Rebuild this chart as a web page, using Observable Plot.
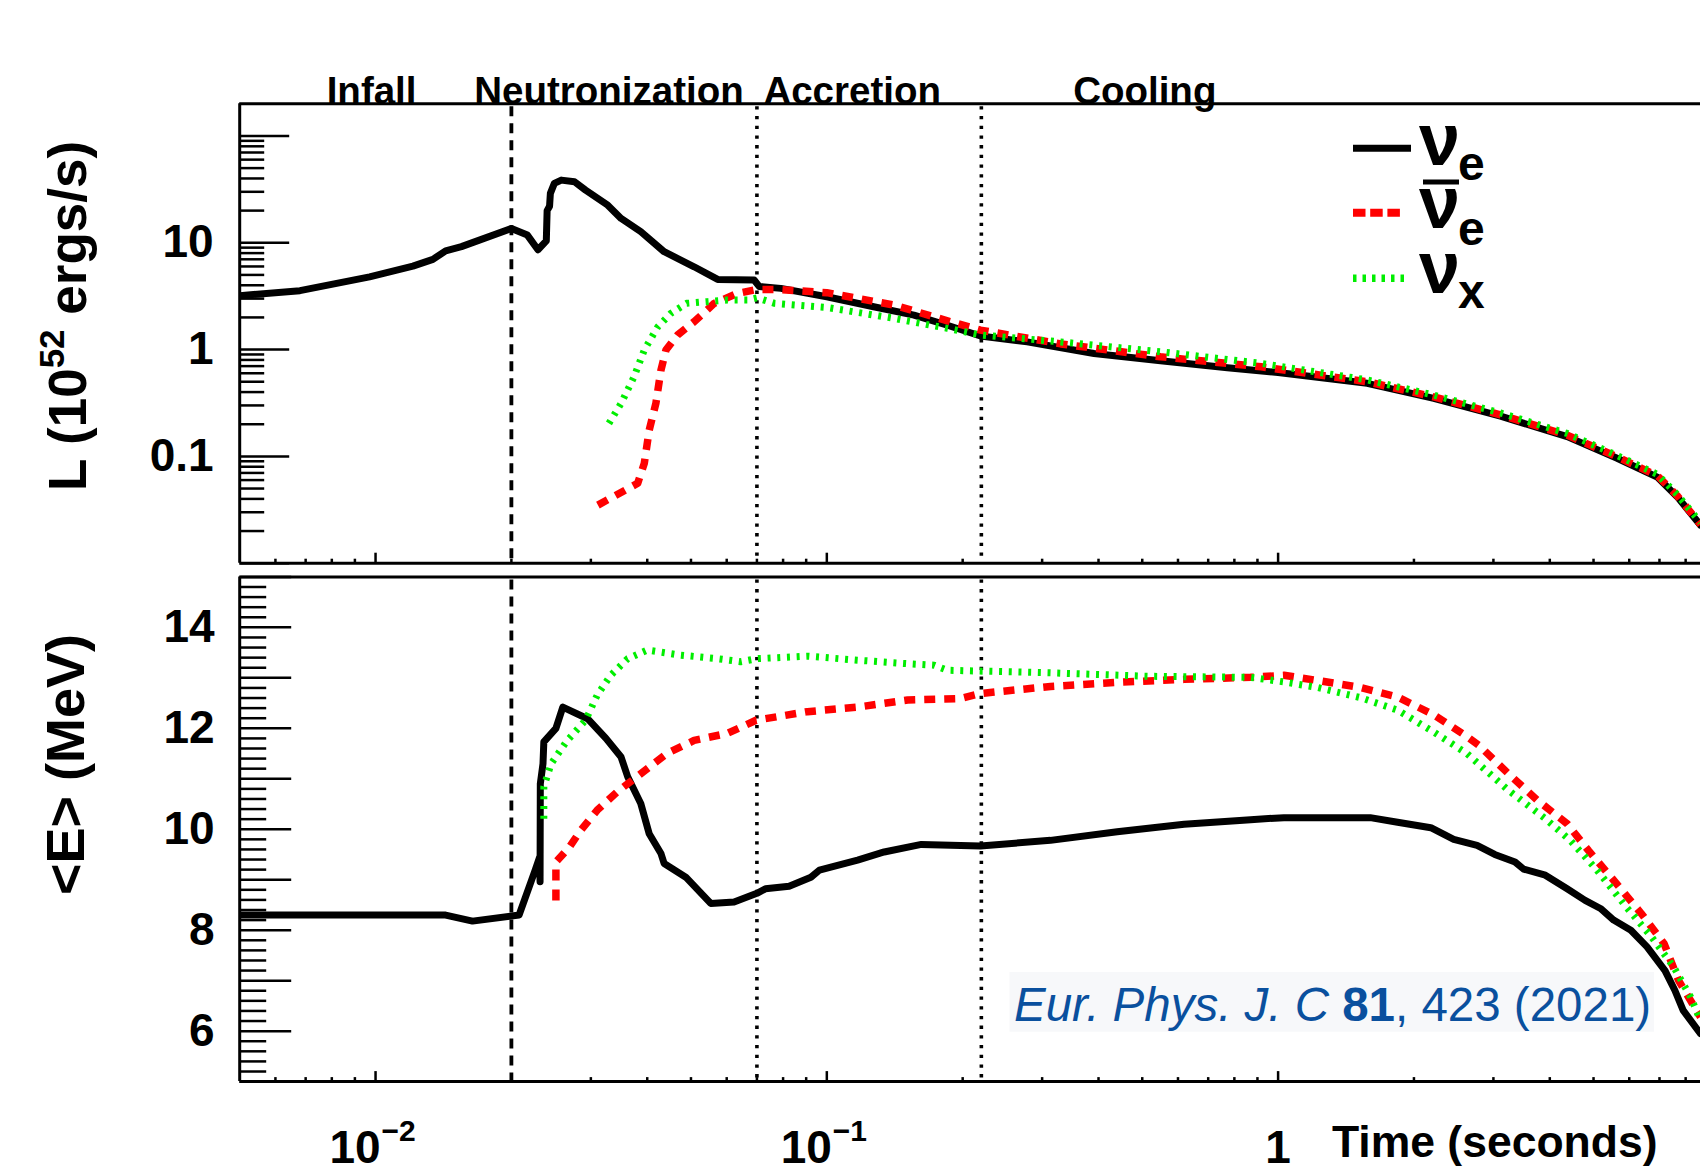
<!DOCTYPE html>
<html>
<head>
<meta charset="utf-8">
<script src="https://cdn.jsdelivr.net/npm/d3@7"></script>
<script src="https://cdn.jsdelivr.net/npm/@observablehq/plot@0.6"></script>
<style>
  html, body { margin: 0; padding: 0; background: #fff; overflow: hidden; }
  #chart { width: 1700px; height: 1173px; overflow: hidden; }
  #chart svg { display: block; }
</style>
</head>
<body>
<div id="chart"></div>
<script>
// ---------------- data ----------------
const phaseNames = ["Infall", "Neutronization", "Accretion", "Cooling"];
const phaseTimes = [0.0098, 0.0329, 0.1138, 0.5065];
const dashedBoundary = [0.02];
const dottedBoundaries = [0.07, 0.22];

// Luminosity (10^52 erg/s) vs time (s)
const lumNue = [
  [0.005, 3.2], [0.0068, 3.56], [0.0097, 4.8], [0.0121, 6.05], [0.0134, 7.0],
  [0.0143, 8.4], [0.0155, 9.2], [0.0200, 13.6], [0.0217, 11.8], [0.0229, 8.6],
  [0.0239, 10.4], [0.0240, 20.0], [0.0243, 22], [0.0244, 29], [0.0249, 36],
  [0.0258, 38.6], [0.0276, 37.2], [0.0292, 31.1], [0.0327, 22.5], [0.035, 16.9],
  [0.0387, 12.7], [0.0436, 8.24], [0.0508, 5.96], [0.0573, 4.54], [0.0690, 4.48],
  [0.0708, 3.9], [0.0791, 3.74], [0.1, 3.12], [0.127, 2.52], [0.156, 2.10],
  [0.185, 1.69], [0.219, 1.34], [0.278, 1.18], [0.391, 0.92], [0.549, 0.785],
  [0.772, 0.676], [1.0, 0.61], [1.576, 0.483], [2.213, 0.349], [3.11, 0.238],
  [4.37, 0.153], [5.64, 0.096], [6.92, 0.064], [7.66, 0.042], [8.63, 0.0227]
];
const lumNuebar = [
  [0.0311, 0.035], [0.0381, 0.056], [0.0394, 0.086], [0.0404, 0.176], [0.0418, 0.313],
  [0.0429, 0.643], [0.044, 0.99], [0.0467, 1.37], [0.0508, 1.82], [0.0563, 2.71],
  [0.0634, 3.36], [0.070, 3.65], [0.0777, 3.65], [0.1, 3.41], [0.141, 2.61],
  [0.185, 1.86], [0.219, 1.52], [0.33, 1.13], [0.549, 0.856], [0.917, 0.69],
  [1.576, 0.50], [2.213, 0.36], [3.11, 0.245], [4.37, 0.158], [5.64, 0.099],
  [6.92, 0.066], [7.66, 0.043], [8.63, 0.023]
];
const lumNux = [
  [0.0329, 0.204], [0.035, 0.313], [0.0374, 0.556], [0.0394, 0.99], [0.0422, 1.63],
  [0.0451, 2.18], [0.0489, 2.71], [0.0544, 2.81], [0.0602, 2.91], [0.0667, 2.91],
  [0.070, 3.05], [0.0766, 2.71], [0.1, 2.48], [0.141, 1.96], [0.185, 1.58],
  [0.219, 1.37], [0.33, 1.18], [0.549, 0.954], [0.917, 0.743], [1.576, 0.52],
  [2.213, 0.375], [3.11, 0.255], [4.37, 0.164], [5.64, 0.102], [6.92, 0.068],
  [7.66, 0.044], [8.63, 0.024]
];

// Mean energy (MeV) vs time (s)
const enNue = [
  [0.005, 8.3], [0.0143, 8.3], [0.0164, 8.18], [0.0208, 8.3], [0.0226, 9.2],
  [0.0231, 9.45], [0.02315, 8.96], [0.02318, 10.9], [0.0235, 11.3], [0.0236, 11.73],
  [0.0251, 12.0], [0.0260, 12.42], [0.0295, 12.19], [0.0324, 11.80], [0.035, 11.43],
  [0.0362, 11.04], [0.0387, 10.51], [0.0404, 9.91], [0.0429, 9.52], [0.0436, 9.32],
  [0.0487, 9.05], [0.0553, 8.53], [0.0623, 8.56], [0.070, 8.73], [0.0731, 8.82],
  [0.0825, 8.87], [0.0922, 9.05], [0.0963, 9.19], [0.117, 9.39], [0.134, 9.55],
  [0.162, 9.70], [0.219, 9.67], [0.313, 9.78], [0.44, 9.95], [0.619, 10.10],
  [0.869, 10.19], [1.03, 10.23], [1.60, 10.23], [1.84, 10.14], [2.18, 10.03],
  [2.45, 9.80], [2.76, 9.68], [3.02, 9.50], [3.35, 9.35], [3.5, 9.21],
  [3.91, 9.09], [4.37, 8.82], [4.79, 8.59], [5.18, 8.43], [5.54, 8.20],
  [6.05, 8.00], [6.57, 7.67], [7.2, 7.20], [7.57, 6.81], [7.9, 6.41], [8.63, 5.95]
];
const enNuebar = [
  [0.0251, 8.59], [0.0251, 9.35], [0.0269, 9.65], [0.0285, 9.98], [0.0310, 10.38],
  [0.0343, 10.74], [0.0387, 11.10], [0.0442, 11.50], [0.0508, 11.76], [0.0602, 11.90],
  [0.0697, 12.16], [0.0906, 12.33], [0.117, 12.42], [0.151, 12.56], [0.198, 12.59],
  [0.219, 12.69], [0.313, 12.83], [0.44, 12.91], [0.619, 12.97], [0.869, 13.01],
  [1.03, 13.05], [1.22, 12.95], [1.52, 12.81], [1.84, 12.62], [2.21, 12.27],
  [2.60, 11.86], [2.78, 11.67], [3.24, 11.10], [3.76, 10.57], [4.37, 10.11],
  [4.87, 9.58], [5.54, 8.99], [6.38, 8.33], [7.17, 7.73], [7.72, 7.0], [8.63, 6.28]
];
const enNux = [
  [0.0236, 10.21], [0.0236, 10.84], [0.0245, 11.30], [0.0266, 11.76], [0.0292, 12.16],
  [0.0310, 12.66], [0.0332, 13.05], [0.0362, 13.38], [0.040, 13.55], [0.0474, 13.45],
  [0.0572, 13.38], [0.0644, 13.32], [0.070, 13.38], [0.0906, 13.43], [0.117, 13.35],
  [0.151, 13.28], [0.173, 13.25], [0.185, 13.15], [0.313, 13.10], [0.52, 13.03],
  [0.869, 13.01], [1.03, 12.92], [1.22, 12.81], [1.52, 12.61], [1.84, 12.36],
  [2.21, 11.93], [2.62, 11.50], [3.24, 10.77], [3.91, 10.21], [4.44, 9.78],
  [5.09, 9.19], [5.91, 8.46], [6.72, 7.87], [7.53, 7.27], [8.2, 6.68], [8.63, 6.21]
];

// axis ticks / labels
const xDomain = [0.005, 8.63];
const xMajorTicks = [0.01, 0.1, 1];
const xMinorTicks = [0.006, 0.007, 0.008, 0.009, 0.02, 0.03, 0.04, 0.05, 0.06, 0.07, 0.08, 0.09,
                     0.2, 0.3, 0.4, 0.5, 0.6, 0.7, 0.8, 0.9, 2, 3, 4, 5, 6, 7, 8];
const xPowerTicks = [0.01, 0.1];
const xPowerExponents = ["\u22122", "\u22121"];
const xPlainTicks = [1];
const xPlainLabels = ["1"];

const lumDomain = [0.01, 200];
const lumMajorTicks = [0.01, 0.1, 1, 10, 100];
const lumMinorTicks = [0.02, 0.03, 0.04, 0.05, 0.06, 0.07, 0.08, 0.09,
                       0.2, 0.3, 0.4, 0.5, 0.6, 0.7, 0.8, 0.9,
                       2, 3, 4, 5, 6, 7, 8, 9, 20, 30, 40, 50, 60, 70, 80, 90];
const lumLabelTicks = [0.1, 1, 10];
const lumLabelText = ["0.1", "1", "10"];

const enDomain = [5, 15];
const enMajorTicks = [5, 6, 7, 8, 9, 10, 11, 12, 13, 14, 15];
const enMinorTicks = d3.range(5, 15.0001, 0.2).map(v => +v.toFixed(1)).filter(v => !Number.isInteger(v));
const enLabelTicks = [6, 8, 10, 12, 14];

// ---------------- styling ----------------
const FONT = "'Liberation Sans', Arial, Helvetica, sans-serif";
const RED = "#ff0000";
const GREEN = "#00ee00";
const BLUE = "#0a509e";
const W = 1700, TOP_H = 569, BOT_H = 604;
const ML = 239.2;
const styleOpt = {fontFamily: FONT, background: "white", overflow: "visible", color: "black"};

const X = d => d[0], Y = d => d[1];

function seriesMarks(black, red, green) {
  return [
    Plot.line(black, {x: X, y: Y, stroke: "black", strokeWidth: 7, strokeLinejoin: "round", clip: true}),
    Plot.line(red, {x: X, y: Y, stroke: RED, strokeWidth: 7.5, strokeDasharray: "11,9", strokeLinecap: "butt", clip: true}),
    Plot.line(green, {x: X, y: Y, stroke: GREEN, strokeWidth: 7, strokeDasharray: "3,6.7", strokeLinecap: "butt", clip: true})
  ];
}
function boundaryMarks() {
  return [
    Plot.ruleX(dashedBoundary, {stroke: "black", strokeWidth: 3.8, strokeDasharray: "10,7", insetTop: 3}),
    Plot.ruleX(dottedBoundaries, {stroke: "black", strokeWidth: 3.6, strokeDasharray: "3.3,6.4", insetTop: 3})
  ];
}
function xTickMarks() {
  return [
    Plot.axisX({anchor: "top", frameAnchor: "bottom", ticks: xMinorTicks, tickSize: 5, fill: "none", strokeWidth: 2.5}),
    Plot.axisX({anchor: "top", frameAnchor: "bottom", ticks: xMajorTicks, tickSize: 11, fill: "none", strokeWidth: 2.5})
  ];
}

// ---------------- top panel: luminosity ----------------
const topPlot = Plot.plot({
  width: W, height: TOP_H,
  marginLeft: ML, marginRight: 0, marginTop: 103.3, marginBottom: TOP_H - 562.7,
  x: {type: "log", domain: xDomain},
  y: {type: "log", domain: lumDomain},
  style: styleOpt,
  marks: [
    Plot.axisY({anchor: "right", frameAnchor: "left", ticks: lumMinorTicks, tickSize: 24, fill: "none", strokeWidth: 2.5}),
    Plot.axisY({anchor: "right", frameAnchor: "left", ticks: lumMajorTicks, tickSize: 49, fill: "none", strokeWidth: 2.5}),
    Plot.axisY({anchor: "left", ticks: lumLabelTicks, tickSize: 0, tickPadding: 26,
      tickFormat: d => lumLabelText[lumLabelTicks.indexOf(d)], fontSize: 46, fontWeight: "bold", label: null}),
    ...xTickMarks(),
    ...boundaryMarks(),
    ...seriesMarks(lumNue, lumNuebar, lumNux),
    Plot.ruleY([lumDomain[1]], {stroke: "black", strokeWidth: 3}),
    Plot.ruleY([lumDomain[0]], {stroke: "black", strokeWidth: 3}),
    Plot.ruleX([xDomain[0]], {stroke: "black", strokeWidth: 3}),
    Plot.text(phaseNames, {x: (d, i) => phaseTimes[i], frameAnchor: "top", lineAnchor: "bottom",
      textAnchor: "middle", fontSize: 38.5, fontWeight: "bold", fill: "black"})
  ]
});

// ---------------- bottom panel: mean energy ----------------
const BOT_TOP = 576.4 - TOP_H;
const BOT_BOTTOM = 1081.1 - TOP_H;
const botPlot = Plot.plot({
  width: W, height: BOT_H,
  marginLeft: ML, marginRight: 0, marginTop: BOT_TOP, marginBottom: BOT_H - BOT_BOTTOM,
  x: {type: "log", domain: xDomain},
  y: {type: "linear", domain: enDomain},
  style: styleOpt,
  marks: [
    Plot.axisY({anchor: "right", frameAnchor: "left", ticks: enMinorTicks, tickSize: 26, fill: "none", strokeWidth: 2.5}),
    Plot.axisY({anchor: "right", frameAnchor: "left", ticks: enMajorTicks, tickSize: 51, fill: "none", strokeWidth: 2.5}),
    Plot.axisY({anchor: "left", ticks: enLabelTicks, tickSize: 0, tickPadding: 25,
      tickFormat: d => String(d), fontSize: 46, fontWeight: "bold", label: null}),
    ...xTickMarks(),
    ...boundaryMarks(),
    ...seriesMarks(enNue, enNuebar, enNux),
    Plot.ruleY([enDomain[1]], {stroke: "black", strokeWidth: 3}),
    Plot.ruleY([enDomain[0]], {stroke: "black", strokeWidth: 3}),
    Plot.ruleX([xDomain[0]], {stroke: "black", strokeWidth: 3}),
    // x tick labels
    Plot.text(xPowerTicks, {x: d => d, text: () => "10", frameAnchor: "bottom", lineAnchor: "bottom",
      textAnchor: "end", dx: 5, dy: 1162 - 1081.1, fontSize: 46, fontWeight: "bold", fill: "black"}),
    Plot.text(xPowerTicks, {x: d => d, text: (d, i) => xPowerExponents[i], frameAnchor: "bottom", lineAnchor: "bottom",
      textAnchor: "start", dx: 6, dy: 1140 - 1081.1, fontSize: 30, fontWeight: "bold", fill: "black"}),
    Plot.text(xPlainTicks, {x: d => d, text: (d, i) => xPlainLabels[i], frameAnchor: "bottom", lineAnchor: "bottom",
      textAnchor: "middle", dy: 1162 - 1081.1, fontSize: 46, fontWeight: "bold", fill: "black"}),
    Plot.text(["Time (seconds)"], {frameAnchor: "bottom-right", lineAnchor: "bottom", textAnchor: "end",
      dx: -43, dy: 1156 - 1081.1, fontSize: 44.5, fontWeight: "bold", fill: "black"})
  ]
});

const chart = document.getElementById("chart");
chart.appendChild(topPlot);
chart.appendChild(botPlot);

// ---------------- annotations: axis titles, legend, citation ----------------
const sTop = d3.select(topPlot);
const sBot = d3.select(botPlot);

const lt = sTop.append("text")
  .attr("transform", "translate(86,316) rotate(-90)")
  .attr("text-anchor", "middle").attr("font-family", FONT)
  .attr("font-size", 53).attr("font-weight", "bold").attr("fill", "black");
lt.append("tspan").text("L (10");
lt.append("tspan").attr("font-size", 35).attr("dy", -22).text("52");
lt.append("tspan").attr("dy", 22).text("\u00a0ergs/s)");

sBot.append("text")
  .attr("transform", `translate(84,${764.5 - TOP_H}) rotate(-90)`)
  .attr("text-anchor", "middle").attr("font-family", FONT)
  .attr("font-size", 54).attr("font-weight", "bold").attr("fill", "black")
  .text("<E> (MeV)");

// legend
const leg = sTop.append("g").attr("font-family", FONT).attr("fill", "black").attr("text-anchor", "start");
leg.append("line").attr("x1", 1353).attr("x2", 1411).attr("y1", 148.3).attr("y2", 148.3)
  .attr("stroke", "black").attr("stroke-width", 7);
leg.append("line").attr("x1", 1353).attr("x2", 1402).attr("y1", 212.7).attr("y2", 212.7)
  .attr("stroke", RED).attr("stroke-width", 8).attr("stroke-dasharray", "12.5,4.7");
leg.append("line").attr("x1", 1353).attr("x2", 1406).attr("y1", 278.3).attr("y2", 278.3)
  .attr("stroke", GREEN).attr("stroke-width", 7.5).attr("stroke-dasharray", "3.5,6");
const legendRows = [
  {nuBase: 165, sub: "e", subBase: 180, bar: false},
  {nuBase: 228, sub: "e", subBase: 245, bar: true},
  {nuBase: 293, sub: "x", subBase: 308, bar: false}
];
legendRows.forEach(r => {
  leg.append("text").attr("x", 1419).attr("y", r.nuBase).attr("text-anchor", "start")
    .attr("font-size", 74).attr("font-weight", "bold").text("\u03bd");
  leg.append("text").attr("x", 1458).attr("y", r.subBase).attr("text-anchor", "start")
    .attr("font-size", 48).attr("font-weight", "bold").text(r.sub);
  if (r.bar) leg.append("line").attr("x1", 1423).attr("x2", 1459).attr("y1", 182).attr("y2", 182)
    .attr("stroke", "black").attr("stroke-width", 5);
});

// citation
sBot.append("rect").attr("x", 1009.5).attr("y", 972 - TOP_H).attr("width", 644.5).attr("height", 59.7)
  .attr("fill", "#f7f8fa");
const cite = sBot.append("text").attr("x", 1014).attr("y", 1021 - TOP_H)
  .attr("text-anchor", "start")
  .attr("font-family", FONT).attr("font-size", 47.5).attr("fill", BLUE)
  .style("white-space", "pre");
cite.append("tspan").attr("font-style", "italic").text("Eur. Phys. J. C ");
cite.append("tspan").attr("font-weight", "bold").text("81");
cite.append("tspan").text(", 423 (2021)");
</script>
</body>
</html>
